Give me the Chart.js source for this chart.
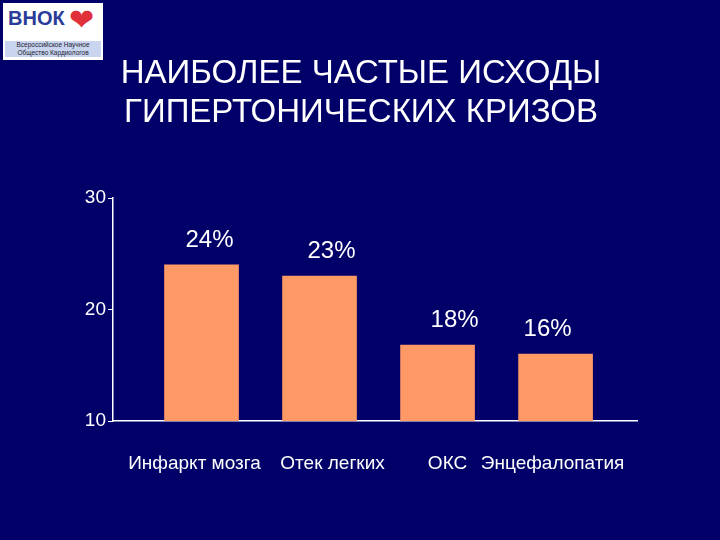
<!DOCTYPE html>
<html>
<head>
<meta charset="utf-8">
<script src="https://cdn.jsdelivr.net/npm/chart.js@4.4.0/dist/chart.umd.min.js"></script>
<style>
    html, body { margin: 0; padding: 0; background: #000068; }
    #wrap { position: relative; width: 720px; height: 540px; }
    #logo {
        position: absolute; left: 3px; top: 3px; width: 100px; height: 57px;
        background: #fff; font-family: 'Liberation Sans', Arial, sans-serif;
    }
    #logo .name { position: absolute; left: 5px; top: 4px; font-size: 20px; font-weight: bold; color: #2a3b9a; }
    #logo .heart { position: absolute; left: 66px; top: 2px; font-size: 30px; color: #e0303a; line-height: 30px; }
    #logo .small { position: absolute; left: 2px; top: 38px; width: 96px; font-size: 6.5px; line-height: 8px; color: #223; text-align: center; background: #c9d4ee; }
</style>
</head>
<body>
<div id="wrap">
    <canvas id="chart" width="720" height="540"></canvas>
    <div id="logo">
        <div class="name">ВНОК</div>
        <div class="heart">&#10084;</div>
        <div class="small">Всероссийское Научное<br>Общество Кардиологов</div>
    </div>
</div>
<script>
// Данные графика
const categories = ['Инфаркт мозга', 'Отек легких', 'ОКС', 'Энцефалопатия'];
const values = [24, 23, 16.8, 16];
const valueLabels = ['24%', '23%', '18%', '16%'];
const yTicks = [10, 20, 30];

const titleLines = ['НАИБОЛЕЕ ЧАСТЫЕ ИСХОДЫ', 'ГИПЕРТОНИЧЕСКИХ КРИЗОВ'];

const FONT = "'Liberation Sans', Arial, sans-serif";
const WHITE = '#ffffff';

// Сдвиги подписей относительно центра столбца (как на слайде)
const categoryShift = [-7, 13, 10, -3];
const valueShift = [8, 12, 17, -8];

// Заголовок, подписи категорий и значений
const annotations = {
    id: 'annotations',
    afterDraw: function(chart) {
        const ctx = chart.ctx;
        const meta = chart.getDatasetMeta(0);
        ctx.save();
        ctx.fillStyle = WHITE;
        ctx.textAlign = 'center';
        ctx.textBaseline = 'middle';
        ctx.font = '33px ' + FONT;
        ctx.fillText(titleLines[0], 361, 74);
        ctx.fillText(titleLines[1], 361, 113);

        ctx.font = '24px ' + FONT;
        meta.data.forEach(function(bar, i) {
            ctx.fillText(valueLabels[i], bar.x + valueShift[i], bar.y - 25);
        });

        ctx.font = '19px ' + FONT;
        const yLabel = chart.chartArea.bottom + 43;
        meta.data.forEach(function(bar, i) {
            ctx.fillText(categories[i], bar.x + categoryShift[i], yLabel);
        });
        ctx.restore();
    }
};

new Chart(document.getElementById('chart').getContext('2d'), {
    type: 'bar',
    data: {
        datasets: [{
            data: values.map((v, i) => ({ x: i, y: v })),
            backgroundColor: '#ff9966',
            borderWidth: 0,
            barThickness: 74
        }]
    },
    options: {
        responsive: false,
        animation: false,
        layout: { padding: { left: 0, top: 198, right: 83, bottom: 0 } },
        plugins: {
            legend: { display: false },
            tooltip: { enabled: false }
        },
        scales: {
            x: {
                type: 'linear',
                offset: false,
                min: -0.75,
                max: 3.69,
                afterFit: function(scale) { scale.height = 119; },
                grid: { display: false },
                border: { color: WHITE, width: 1.5 },
                ticks: { display: false }
            },
            y: {
                min: 10,
                max: 30,
                afterBuildTicks: function(scale) {
                    scale.ticks = yTicks.map(v => ({ value: v }));
                },
                afterFit: function(scale) { scale.width = 113; },
                grid: { drawOnChartArea: false, color: WHITE, tickLength: 5 },
                border: { color: WHITE, width: 1.5 },
                ticks: {
                    color: WHITE,
                    font: { family: FONT, size: 19 },
                    padding: 2
                }
            }
        }
    },
    plugins: [annotations]
});
</script>
</body>
</html>
